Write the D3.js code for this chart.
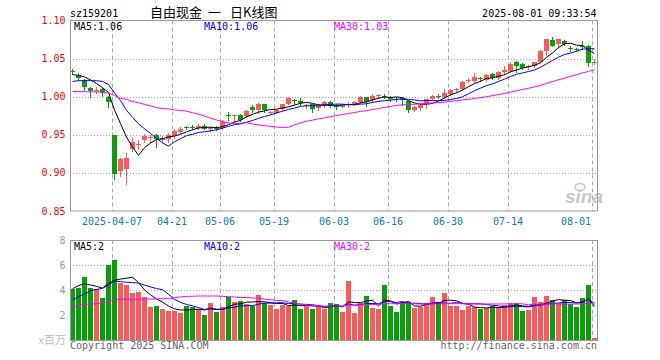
<!DOCTYPE html>
<html><head><meta charset="utf-8">
<script src="https://cdn.jsdelivr.net/npm/d3@7"></script>
<style>
body{margin:0;background:#fff}
svg{display:block}
text{font-family:"DejaVu Sans Mono","Liberation Mono",monospace;font-size:10px}
</style>
</head><body>
<svg id="c" width="660" height="360"></svg>
<script>
// ---------- data ----------
const dates = ["03-26","03-27","03-28","03-31","04-01","04-02","04-03","04-07","04-08","04-09","04-10","04-11",
"04-14","04-15","04-16","04-17","04-18","04-21","04-22","04-23","04-24","04-25","04-28","04-29","04-30",
"05-06","05-07","05-08","05-09","05-12","05-13","05-14","05-15","05-16","05-19","05-20","05-21","05-22","05-23",
"05-26","05-27","05-28","05-29","05-30","06-03","06-04","06-05","06-06","06-09","06-10","06-11","06-12","06-13",
"06-16","06-17","06-18","06-19","06-20","06-23","06-24","06-25","06-26","06-27","06-30","07-01","07-02","07-03","07-04",
"07-07","07-08","07-09","07-10","07-11","07-14","07-15","07-16","07-17","07-18","07-21","07-22","07-23","07-24","07-25",
"07-28","07-29","07-30","07-31","08-01"];
const open  = [1.0335,1.029,1.022,1.012,1.008,1.010,1.000,0.950,0.902,0.905,0.932,0.9375,0.943,0.9465,0.950,0.943,0.945,0.948,0.954,0.9605,0.9605,0.959,0.962,0.959,0.9605,0.959,0.9755,0.975,0.976,0.975,
0.987,0.982,0.990,0.979,0.979,0.9845,0.991,0.996,0.994,0.988,0.990,0.985,0.988,0.9935,0.988,0.987,0.990,0.990,0.9925,0.999,0.996,1.002,1.0015,0.999,0.9975,0.998,0.994,0.983,0.985,0.990,
0.997,1.0005,0.999,1.0035,1.010,1.010,1.021,1.021,1.0245,1.022,1.030,1.024,1.032,1.034,1.046,1.0425,1.0395,1.040,1.046,1.0605,1.075,1.069,1.073,1.0645,1.0625,1.0665,1.0665,1.045];
const close = [1.033,1.024,1.013,1.008,1.009,1.005,0.9935,0.898,0.918,0.920,0.941,0.938,0.949,0.947,0.944,0.946,0.950,0.955,0.958,0.960,0.960,0.962,0.958,0.9595,0.957,0.967,0.975,0.9755,0.970,0.981,
0.9825,0.990,0.983,0.9795,0.983,0.990,0.998,0.994,0.992,0.9885,0.984,0.988,0.9935,0.988,0.9875,0.989,0.9905,0.9935,1.000,0.9935,1.001,1.0025,1.001,0.997,0.997,0.996,0.983,0.986,0.989,0.9965,
1.001,1.000,1.005,1.009,1.0105,1.0195,1.0215,1.0255,1.024,1.029,1.024,1.032,1.035,1.0435,1.040,1.0375,1.040,1.045,1.060,1.0755,1.067,1.0755,1.069,1.064,1.062,1.066,1.0445,1.046];
const high  = [1.036,1.031,1.023,1.013,1.013,1.012,1.0013,0.950,0.919,0.926,0.946,0.943,0.951,0.950,0.951,0.949,0.952,0.957,0.960,0.962,0.963,0.964,0.964,0.962,0.962,0.969,0.9795,0.976,0.977,0.982,
0.989,0.992,0.991,0.9815,0.984,0.991,0.999,0.997,0.998,0.9905,0.991,0.990,0.995,0.994,0.991,0.990,0.993,0.995,1.001,1.000,1.003,1.004,1.004,1.001,0.999,0.999,0.995,0.988,0.990,0.997,
1.002,1.004,1.010,1.010,1.011,1.020,1.024,1.0315,1.026,1.030,1.031,1.034,1.040,1.046,1.0475,1.044,1.041,1.046,1.061,1.076,1.079,1.076,1.074,1.067,1.064,1.073,1.068,1.049];
const low   = [1.030,1.022,1.009,1.000,1.0055,1.001,0.987,0.892,0.896,0.885,0.929,0.931,0.940,0.941,0.934,0.940,0.940,0.946,0.953,0.957,0.957,0.957,0.957,0.955,0.956,0.957,0.970,0.967,0.968,0.973,
0.980,0.979,0.980,0.977,0.978,0.983,0.990,0.990,0.989,0.985,0.980,0.983,0.986,0.986,0.984,0.986,0.987,0.989,0.992,0.988,0.995,1.000,0.998,0.995,0.995,0.989,0.980,0.981,0.983,0.985,
0.996,0.998,0.998,1.002,1.006,1.009,1.019,1.019,1.021,1.021,1.023,1.023,1.030,1.033,1.033,1.036,1.037,1.039,1.045,1.055,1.066,1.0655,1.068,1.060,1.060,1.062,1.040,1.043];
const volume = [4.05,4.2,5.04,4.13,4.05,3.36,6.0,6.4,4.56,4.4,3.76,3.87,3.44,2.64,2.72,2.48,2.32,2.32,2.16,2.72,2.67,2.45,2.0,2.96,2.24,2.64,3.44,3.04,3.12,2.88,
2.72,3.6,2.96,2.8,2.48,2.8,2.72,3.2,2.48,2.72,2.48,2.72,2.48,2.96,2.88,2.24,4.72,2.16,2.96,3.52,2.56,2.48,4.4,2.72,2.24,3.04,3.04,2.56,2.64,2.96,
3.44,3.04,3.76,2.72,2.72,2.4,2.72,2.64,2.48,2.56,2.72,2.6,2.8,2.96,2.96,2.32,2.4,3.44,3.04,3.52,3.2,2.96,3.2,2.88,2.64,3.36,4.4,0.18];
// moving-average values for days whose window starts before the first shown day
const priceMA5Head  = [1.029,1.028,1.026,1.022];
const priceMA10Head = [1.020,1.021,1.021,1.021,1.021,1.020,1.016,1.005,0.995];
const priceMA30Head = [1.007,1.0066,1.0066,1.0063,1.0063,1.006,1.005,1.0016,0.998,0.9966,0.9937,0.992,0.990,0.988,0.9856,0.9845,0.984,0.9826,0.982,0.981,0.979,0.977,0.9747,0.972,0.9694,0.9675,0.9655,0.9648,0.965];
const volMA5Head  = [4.1,4.35,4.5,4.4];
const volMA10Head = [3.2,3.47,3.68,3.95,4.05,4.13,4.4,4.72,4.67];
const volMA30Head = [2.62,2.77,2.85,2.88,2.9,2.97,3.05,3.2,3.25,3.25,3.25,3.26,3.27,3.28,3.29,3.3,3.32,3.38,3.45,3.49,3.5,3.52,3.52,3.52,3.52,3.5,3.47,3.44,3.4];
const tickLabels = ["2025-04-07","04-21","05-06","05-19","06-03","06-16","06-30","07-14","08-01"];
const tickDays   = ["04-07","04-21","05-06","05-19","06-03","06-16","06-30","07-14","08-01"];
const priceTicks = [1.10,1.05,1.00,0.95,0.90,0.85];
const volTicks = [8,6,4,2];
const priceLegend = ["MA5:1.06","MA10:1.06","MA30:1.03"];
const volLegend = ["MA5:2","MA10:2","MA30:2"];
const code = "sz159201", title = "自由现金 一 日K线图", stamp = "2025-08-01 09:33:54";

// ---------- helpers ----------
function ma(arr, n, head){ return arr.map((v,i)=> i < n-1 ? head[i] : d3.mean(arr.slice(i-n+1,i+1))); }
const RED="#fa5a5a", GREEN="#0a9e0a", GRID="#aaa", FRAME="#999";
const maColors=["#000","#0000ff","#ff00ff"];

const svg=d3.select("#c");
const L=70, R=598;
const x=d3.scaleLinear().domain([0,dates.length]).range([L,R]);
const yP=d3.scaleLinear().domain([0.85,1.10]).range([211,20.5]);
const yV=d3.scaleLinear().domain([0,8]).range([340,240]);
const idx=d3.range(dates.length);

// header
svg.append("text").attr("x",70).attr("y",16.5).attr("fill","#000").text(code);
const tt=svg.append("text").attr("y",16.5)
  .style("font-family",'"Noto Sans CJK SC",sans-serif').style("font-size","13px").attr("fill","#000");
const titleX=[150,208,230];
title.split(" ").forEach((p,k)=>tt.append("tspan").attr("x",titleX[k]).text(p));
svg.append("text").attr("x",596.5).attr("y",16.5).attr("text-anchor","end").attr("fill","#000").text(stamp);

function panel(yScale, ticks, top, bottom, labelColor, fmt){
  const g=svg.append("g");
  ticks.forEach(t=>{
    const yy=Math.round(yScale(t))+0.5;
    if(yy>top+2 && yy<bottom-2)
      g.append("line").attr("x1",L).attr("x2",R-0.5).attr("y1",yy).attr("y2",yy)
       .attr("stroke",GRID).attr("stroke-dasharray","1,2");
    g.append("text").attr("x",65.5).attr("y",yScale(t)+3.5).attr("text-anchor","end")
      .attr("fill",labelColor).text(fmt(t));
  });
  tickDays.forEach(d=>{
    const xx=Math.round(x(dates.indexOf(d)))+0.5;
    g.append("line").attr("x1",xx).attr("x2",xx).attr("y1",top).attr("y2",bottom)
      .attr("stroke",GRID).attr("stroke-dasharray","4,3");
  });
  return g;
}
panel(yP, priceTicks, 20.5, 211, "#f00", d=>d.toFixed(2));
panel(yV, volTicks, 240, 340, "#999", d=>String(d));

// sina watermark
svg.append("text").attr("x",565).attr("y",203).style("font-family","Liberation Sans,sans-serif")
  .style("font-size","19px").style("font-style","italic").style("font-weight","bold")
  .attr("fill","#c8c8c8").text("sina");
svg.append("ellipse").attr("cx",580).attr("cy",187).attr("rx",5).attr("ry",3.5)
  .attr("fill","none").attr("stroke","#f4b0b0").attr("stroke-width",1.5);

// candles
const cg=svg.append("g");
idx.forEach(i=>{
  const col = close[i]>open[i] ? RED : (close[i]<open[i] ? GREEN : RED);
  const x0=Math.round(x(i));
  cg.append("line").attr("x1",x0+2.5).attr("x2",x0+2.5)
    .attr("y1",Math.round(yP(high[i]))).attr("y2",Math.round(yP(low[i]))+1).attr("stroke",col);
  const t=Math.round(yP(Math.max(open[i],close[i]))), b=Math.round(yP(Math.min(open[i],close[i])));
  cg.append("rect").attr("x",x0).attr("width",5).attr("y",t).attr("height",Math.max(1,b-t)).attr("fill",col);
});
// volume bars
const vg=svg.append("g");
idx.forEach(i=>{
  const col = close[i]>=open[i] ? RED : GREEN;
  const t=Math.round(yV(volume[i]));
  vg.append("rect").attr("x",Math.round(x(i))).attr("width",5).attr("y",t).attr("height",340-t).attr("fill",col);
});

// MA lines
function maLines(yScale, arr, heads){
  [5,10,30].forEach((n,k)=>{
    const vals=ma(arr,n,heads[k]);
    svg.append("path").datum(idx)
      .attr("d",d3.line().x(i=>x(i)+2.5).y(i=>yScale(vals[i])))
      .attr("fill","none").attr("stroke",maColors[k]).attr("stroke-width",1);
  });
}
maLines(yP, close, [priceMA5Head,priceMA10Head,priceMA30Head]);
maLines(yV, volume, [volMA5Head,volMA10Head,volMA30Head]);

// frames
svg.append("rect").attr("x",70.5).attr("y",20.5).attr("width",527).attr("height",190.5)
  .attr("fill","none").attr("stroke",FRAME);
svg.append("rect").attr("x",70.5).attr("y",240.5).attr("width",527).attr("height",100)
  .attr("fill","none").attr("stroke",FRAME);

// legends
const legX=[74,204,334];
priceLegend.forEach((t,k)=>svg.append("text").attr("x",legX[k]).attr("y",29.5).attr("fill",maColors[k]).text(t));
volLegend.forEach((t,k)=>svg.append("text").attr("x",legX[k]).attr("y",250).attr("fill",maColors[k]).text(t));

// date labels
tickDays.forEach((d,k)=>{
  const cx=x(dates.indexOf(d));
  const w=tickLabels[k].length*6.02;
  const c=Math.min(cx, 591-w/2);
  svg.append("text").attr("x",c).attr("y",225).attr("text-anchor","middle").attr("fill","#0a7bd0").text(tickLabels[k]);
});

// footer
svg.append("text").attr("x",66).attr("y",344).attr("text-anchor","end").attr("fill","#bbb")
  .style("font-family",'"Noto Sans CJK SC",sans-serif').style("font-size","11px").text("x百万");
svg.append("text").attr("x",70).attr("y",349).attr("fill","#666").text("Copyright 2025 SINA.COM");
svg.append("text").attr("x",597).attr("y",349).attr("text-anchor","end").attr("fill","#666").text("http://finance.sina.com.cn");
</script>
</body></html>
